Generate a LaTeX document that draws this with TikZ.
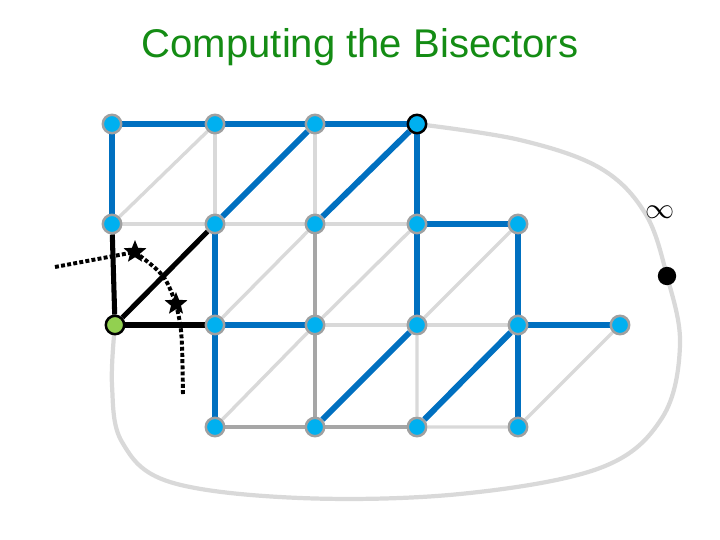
\documentclass[tikz,border=0pt]{standalone}
\usepackage{fontspec}
\setmainfont{Liberation Sans}
\usepackage{xcolor}
\usepackage{tikz}
\usetikzlibrary{shapes.geometric, backgrounds}
\definecolor{treeblue}{RGB}{0,112,192}
\definecolor{vcyan}{RGB}{0,176,240}
\definecolor{vrim}{RGB}{160,160,160}
\definecolor{lightedge}{RGB}{217,217,217}
\definecolor{midedge}{RGB}{166,166,166}
\definecolor{rootgreen}{RGB}{146,208,80}
\definecolor{titlegreen}{RGB}{20,140,20}
\tikzset{
    vtx/.style={circle, fill=vcyan, draw=vrim, line width=1.8pt, minimum size=4.6mm, inner sep=0pt},
    tree/.style={treeblue, line width=4.2pt},
    cut/.style={black, line width=3.6pt},
    mesh/.style={lightedge, line width=2.4pt},
    meshdark/.style={midedge, line width=2.4pt},
    bisector/.style={black, line width=2.8pt, dash pattern=on 2.8pt off 1.6pt},
    marker/.style={star, star points=5, star point ratio=2.3, fill=black, minimum size=6mm, inner sep=0pt}
}

\begin{document}
\begin{tikzpicture}[x=0.25mm, y=-0.25mm, >=stealth]
    \useasboundingbox (0,0) rectangle (720,540);
    \node[font=\fontsize{28.5}{32}\selectfont, text=titlegreen] (title) at (360,47) {Computing the Bisectors};

    % vertices, row by row
    \node[vtx] (v00) at (112,124) {};
    \node[vtx] (v10) at (215,124) {};
    \node[vtx] (v20) at (315,124) {};
    \node[vtx, draw=black] (v30) at (417,124) {};
    \node[vtx] (v01) at (112,224) {};
    \node[vtx] (v11) at (215,224) {};
    \node[vtx] (v21) at (315,224) {};
    \node[vtx] (v31) at (417,224) {};
    \node[vtx] (v41) at (518,224) {};
    \node[vtx, fill=rootgreen, draw=black] (v02) at (115,325) {};
    \node[vtx] (v12) at (215,325) {};
    \node[vtx] (v22) at (315,325) {};
    \node[vtx] (v32) at (417,325) {};
    \node[vtx] (v42) at (518,325) {};
    \node[vtx] (v52) at (620,325) {};
    \node[vtx] (v13) at (215,427) {};
    \node[vtx] (v23) at (315,427) {};
    \node[vtx] (v33) at (417,427) {};
    \node[vtx] (v43) at (518,427) {};

    % vertex at infinity
    \node[circle, fill=black, minimum size=4.6mm, inner sep=0pt] (vinf) at (667,276) {};
    \node[font=\fontsize{22}{24}\selectfont] (inflabel) at (660,212) {$\infty$};

    \begin{scope}[on background layer]
        \draw[lightedge, line width=3pt] plot[smooth, tension=0.6] coordinates {(v30.center) (520,140) (600,168) (645,213) (vinf.center) (680,345) (662,418) (600,468) (460,494) (300,498) (170,482) (122,442) (112,385) (v02.center)};
        % mesh edges
        \draw[mesh] (v01) -- (v10);
        \draw[mesh] (v10) -- (v11);
        \draw[mesh] (v01) -- (v11) -- (v21) -- (v31);
        \draw[mesh] (v20) -- (v21);
        \draw[mesh] (v12) -- (v21);
        \draw[mesh] (v22) -- (v31);
        \draw[mesh] (v32) -- (v41);
        \draw[mesh] (v22) -- (v32) -- (v42);
        \draw[mesh] (v13) -- (v22);
        \draw[mesh] (v32) -- (v33) -- (v43) -- (v52);
        \draw[meshdark] (v21) -- (v22) -- (v23);
        \draw[meshdark] (v13) -- (v23) -- (v33);
        % spanning tree
        \draw[tree] (v01) -- (v00) -- (v10) -- (v20) -- (v30);
        \draw[tree] (v11) -- (v20);
        \draw[tree] (v21) -- (v30);
        \draw[tree] (v30) -- (v31) -- (v41) -- (v42);
        \draw[tree] (v31) -- (v32);
        \draw[tree] (v11) -- (v12) -- (v13);
        \draw[tree] (v12) -- (v22);
        \draw[tree] (v23) -- (v32);
        \draw[tree] (v33) -- (v42);
        \draw[tree] (v43) -- (v42) -- (v52);
        % edges at the root
        \draw[cut] (v01) -- (v02) -- (v11);
        \draw[cut] (v02) -- (v12);
    \end{scope}

    % bisector pieces
    \node[marker] (s1) at (135,252) {};
    \node[marker] (s2) at (176,304) {};
    \coordinate (b1) at (55,267);
    \coordinate (b2) at (183,395);
    \draw[bisector] (b1) .. controls (95,260) .. (s1.center);
    \draw[bisector] (s1.center) .. controls (165,275) .. (s2.center);
    \draw[bisector] (s2.center) .. controls (182,330) .. (b2);
\end{tikzpicture}
\end{document}
